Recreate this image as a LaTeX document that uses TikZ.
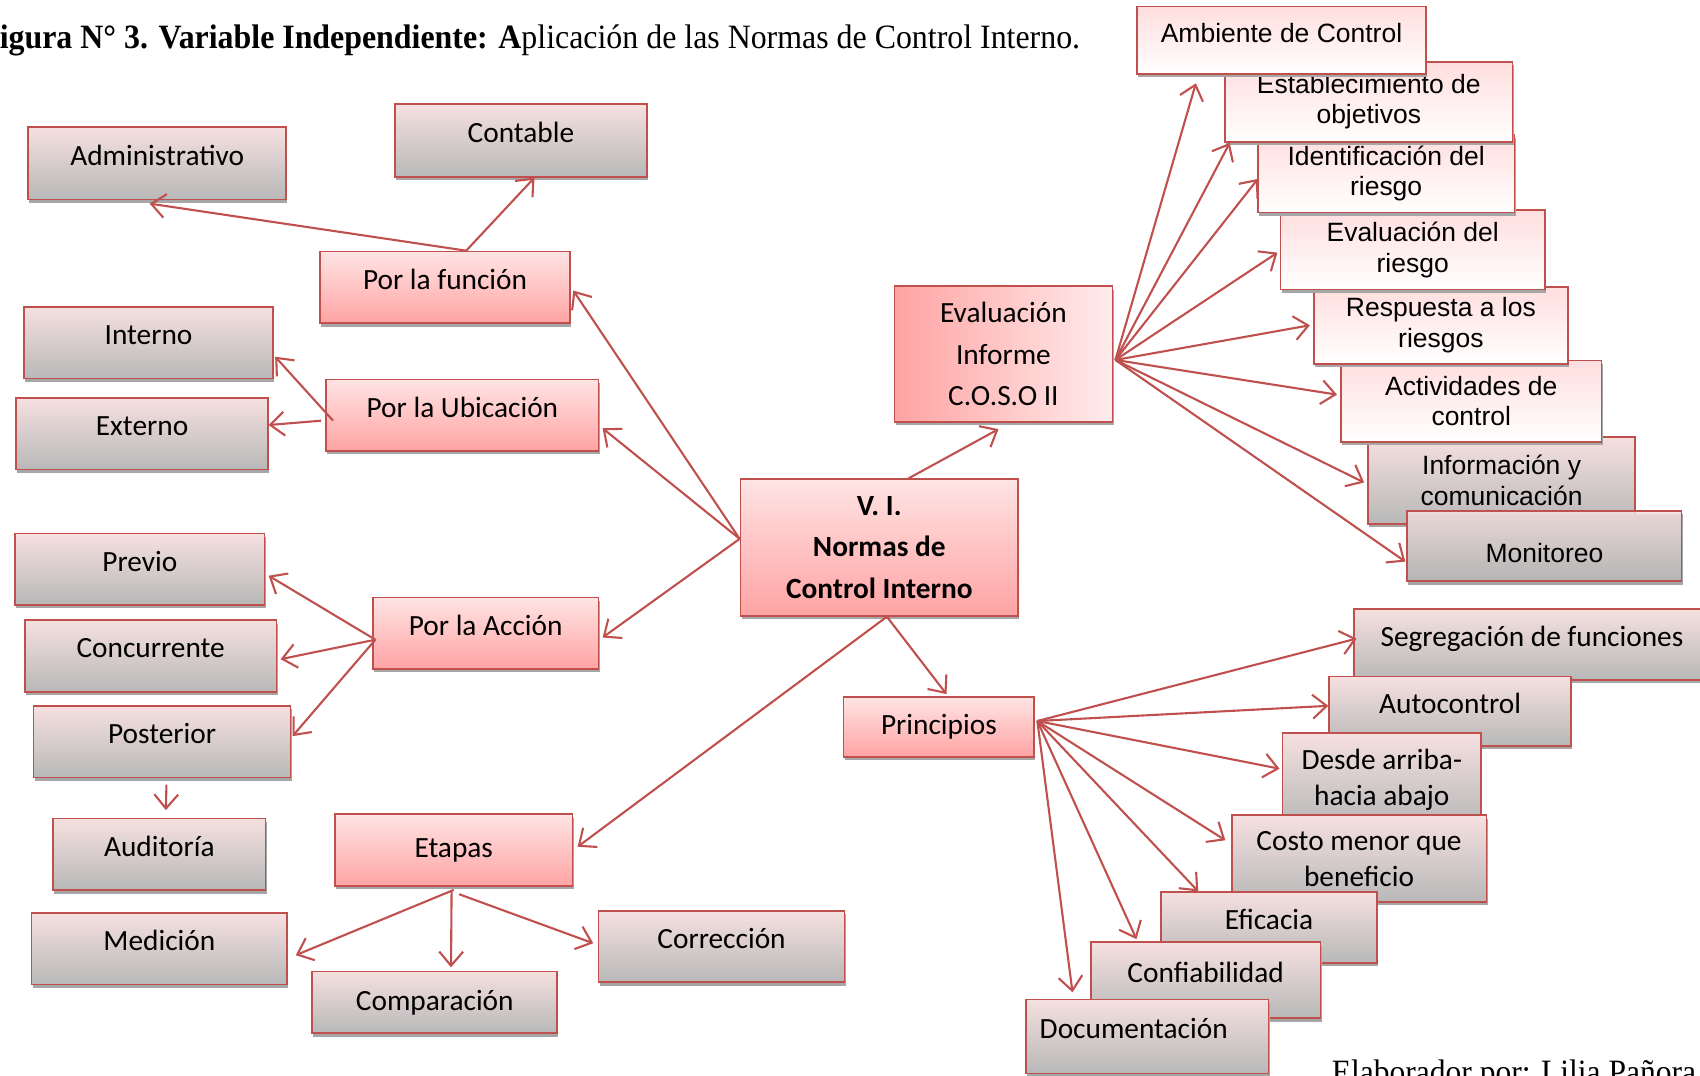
\documentclass[tikz,border=0pt]{standalone}
\usepackage{fontspec}
\setmainfont{Carlito}
\newfontfamily\fuenteArial{Liberation Sans}
\newfontfamily\fuenteTimes{Liberation Serif}
\usetikzlibrary{calc,arrows.meta,shadows}
\definecolor{borde}{RGB}{192,80,77}
\definecolor{grisarriba}{RGB}{246,224,224}
\definecolor{grisabajo}{RGB}{184,184,184}
\definecolor{rosaarriba}{RGB}{255,228,228}
\definecolor{rosaabajo}{RGB}{255,163,163}
\definecolor{claroarriba}{RGB}{255,222,222}
\definecolor{evalizq}{RGB}{255,163,163}
\definecolor{evalder}{RGB}{255,236,236}
\tikzset{
	caja/.style={draw=borde, line width=0.9pt, inner sep=2pt, align=center,
		drop shadow={shadow xshift=0.6pt, shadow yshift=-1.8pt, fill=black!35, opacity=1},
		font=\fontsize{15.4}{18.8}\selectfont},
	gris/.style={caja, top color=grisarriba, bottom color=grisabajo},
	rosa/.style={caja, top color=rosaarriba, bottom color=rosaabajo},
	claro/.style={caja, top color=claroarriba, bottom color=white},
	arial/.style={font=\fuenteArial\fontsize{13.9}{15.9}\selectfont},
	una/.style={text height=11pt, text depth=9pt},
	sz/.style 2 args={minimum width=#1*0.02cm, minimum height=#2*0.02cm},
	flecha/.style={draw=borde, line width=1.1pt, -{Straight Barb[length=2.6mm,width=4.4mm]}},
	pie/.style={anchor=base west, inner sep=0pt, font=\fuenteTimes\fontsize{17.9}{20}\selectfont}
}

\begin{document}
\begin{tikzpicture}[x=0.02cm, y=-0.02cm]
	%%%%% START %%%%%
	\useasboundingbox (0,0) rectangle (1568,992);
	\node[pie] (titulo) at (-18.5,45) {\scalebox{0.935}[1]{\textbf{Figura N° 3. Variable Independiente: A}plicación de las Normas de Control Interno.}};
	\node[pie] (autor) at (1228,999) {\scalebox{0.925}[1]{Elaborador por: Lilia Pañora}};
	
	% rama izquierda
	\node[gris, una, sz={238}{67}] (adm) at (145,150.5) {Administrativo};
	\node[gris, una, sz={233}{67}] (cont) at (480.5,129.5) {Contable};
	\node[rosa, una, sz={231}{66}] (func) at (410.5,265) {Por la función};
	
	\node[gris, una, sz={230}{66}] (inter) at (137,316) {Interno};
	\node[gris, una, sz={232}{66}] (exter) at (131,400) {Externo};
	\node[rosa, una, sz={251}{66}] (ubic) at (426.5,383) {Por la Ubicación};
	
	\node[gris, una, sz={230}{66}] (previo) at (129,525) {Previo};
	\node[gris, una, sz={232}{66}] (conc) at (139,605) {Concurrente};
	\node[gris, una, sz={237}{66}] (post) at (149.5,684) {Posterior};
	\node[rosa, una, sz={208}{66}] (accion) at (448,584) {Por la Acción};
	\node[gris, una, sz={196}{66}] (audit) at (147,788) {Auditoría};
	
	\node[rosa, sz={219}{66}] (etapas) at (418.5,784) {Etapas};
	\node[gris, una, sz={236}{66}] (medic) at (147,875) {Medición};
	\node[gris, sz={226}{57}] (compar) at (401,924.5) {Comparación};
	\node[gris, una, sz={227}{66}] (correc) at (665.5,873) {Corrección};
	
	% centro
	\node[rosa, sz={256}{126}, font=\bfseries\fontsize{15.4}{21.9}\selectfont] (vi) at (811,505) {V. I.\\Normas de\\Control Interno};
	\node[caja, left color=evalizq, right color=evalder, sz={201}{125}, font=\fontsize{15.4}{21.9}\selectfont] (eval) at (925.5,326.5) {Evaluación\\Informe\\C.O.S.O II};
	\node[rosa, sz={176}{55}] (princ) at (866,670.5) {Principios};
	
	% componentes C.O.S.O II
	\node[gris, arial, sz={246}{80}] (info) at (1385,443) {Información y\\comunicación};
	\node[gris, arial, sz={253}{65}, fill opacity=0.85, text opacity=1, text height=18pt, text depth=0.7pt] (monit) at (1424.5,503.5) {Monitoreo};
	\node[claro, arial, sz={240}{75}] (activ) at (1357,370) {Actividades de\\control};
	\node[claro, arial, sz={234}{71}] (resp) at (1329,300) {Respuesta a los\\riesgos};
	\node[claro, arial, sz={244}{73}] (evalr) at (1303,230.5) {Evaluación del\\riesgo};
	\node[claro, arial, sz={237}{72}] (ident) at (1278.5,160) {Identificación del\\riesgo};
	\node[claro, arial, sz={265}{74}] (estab) at (1262.5,94) {Establecimiento de\\objetivos};
	\node[claro, arial, una, sz={266}{62}] (amb) at (1182,37) {Ambiente de Control};
	
	% principios
	\node[gris, una, sz={328}{65}] (seg) at (1413,594.5) {Segregación de funciones};
	\node[gris, una, sz={223}{64}] (autoc) at (1337.5,656) {Autocontrol};
	\node[gris, sz={183}{86}] (desde) at (1274.5,719) {Desde arriba-\\hacia abajo};
	\node[gris, sz={235}{80}] (costo) at (1253.5,792) {Costo menor que\\beneficio};
	\node[gris, una, sz={199}{65}] (efic) at (1170.5,855.5) {Eficacia};
	\node[gris, una, sz={212}{70}] (conf) at (1112,904) {Confiabilidad};
	\node[gris, una, sz={224}{68}] (docu) at (1058,956) {Documentación\hspace{14pt}};
	
	% flechas
	\draw[flecha] ($(func.north)+(19.5,0)$) -- ($(adm.south)+(-7,3)$);
	\draw[flecha] ($(func.north)+(19.5,0)$) -- ($(cont.south)+(12.5,0)$);
	\draw[flecha] ($(ubic.west)+(7,5)$) -- ($(inter.east)+(1,13)$);
	\draw[flecha] ($(ubic.west)+(-4,5)$) -- ($(exter.east)+(0,-8)$);
	\draw[flecha] ($(vi.west)+(0,-8)$) -- ($(func.east)+(2,3)$);
	\draw[flecha] ($(vi.west)+(0,-8)$) -- ($(ubic.east)+(3,12)$);
	\draw[flecha] ($(vi.west)+(0,-8)$) -- ($(accion.east)+(3,4)$);
	\draw[flecha] ($(accion.west)+(3,6)$) -- ($(previo.east)+(3,6)$);
	\draw[flecha] ($(accion.west)+(3,6)$) -- ($(conc.east)+(3,3)$);
	\draw[flecha] ($(accion.west)+(3,6)$) -- ($(post.east)+(1,-5)$);
	\draw[flecha] ($(post.south)+(4,6)$) -- ($(audit.north)+(6,-7)$);
	\draw[flecha] ($(vi.south)+(7,0)$) -- ($(etapas.east)+(4,-3)$);
	\draw[flecha] ($(etapas.south)+(0,3)$) -- ($(medic.east)+(7,6)$);
	\draw[flecha] ($(etapas.south)+(-2,5)$) -- ($(compar.north)+(15,-3)$);
	\draw[flecha] ($(etapas.south)+(5,7)$) -- ($(correc.west)+(-4,-3)$);
	\draw[flecha] ($(vi.north)+(27,0)$) -- ($(eval.south)+(-4.5,6)$);
	\draw[flecha] ($(vi.south)+(7,0)$) -- ($(princ.north)+(7,-2)$);
	
	\draw[flecha] ($(eval.east)+(2,5.5)$) -- ($(amb.south)+(-79,8)$);
	\draw[flecha] ($(eval.east)+(2,5.5)$) -- ($(estab.south west)+(5,0)$);
	\draw[flecha] ($(eval.east)+(2,5.5)$) -- ($(ident.west)+(1,5)$);
	\draw[flecha] ($(eval.east)+(2,5.5)$) -- ($(evalr.west)+(-2,2.5)$);
	\draw[flecha] ($(eval.east)+(2,5.5)$) -- ($(resp.west)+(-3,0)$);
	\draw[flecha] ($(eval.east)+(2,5.5)$) -- ($(activ.west)+(-3,-6)$);
	\draw[flecha] ($(eval.east)+(2,5.5)$) -- ($(info.west)+(-3,2)$);
	\draw[flecha] ($(eval.east)+(2,5.5)$) -- ($(monit.west)+(-1,14.5)$);
	
	\draw[flecha] ($(princ.east)+(2,-5.5)$) -- ($(seg.west)+(3,-5.5)$);
	\draw[flecha] ($(princ.east)+(2,-5.5)$) -- ($(autoc.west)+(0,-5)$);
	\draw[flecha] ($(princ.east)+(2,-5.5)$) -- ($(desde.west)+(-2,-10)$);
	\draw[flecha] ($(princ.east)+(2,-5.5)$) -- ($(costo.west)+(-5,-17)$);
	\draw[flecha] ($(princ.east)+(2,-5.5)$) -- ($(efic.north west)+(35,0)$);
	\draw[flecha] ($(princ.east)+(2,-5.5)$) -- ($(conf.north west)+(43,-2)$);
	\draw[flecha] ($(princ.east)+(2,-5.5)$) -- ($(docu.north west)+(44,-6)$);
	%%%%% END %%%%%
\end{tikzpicture}
\end{document}
